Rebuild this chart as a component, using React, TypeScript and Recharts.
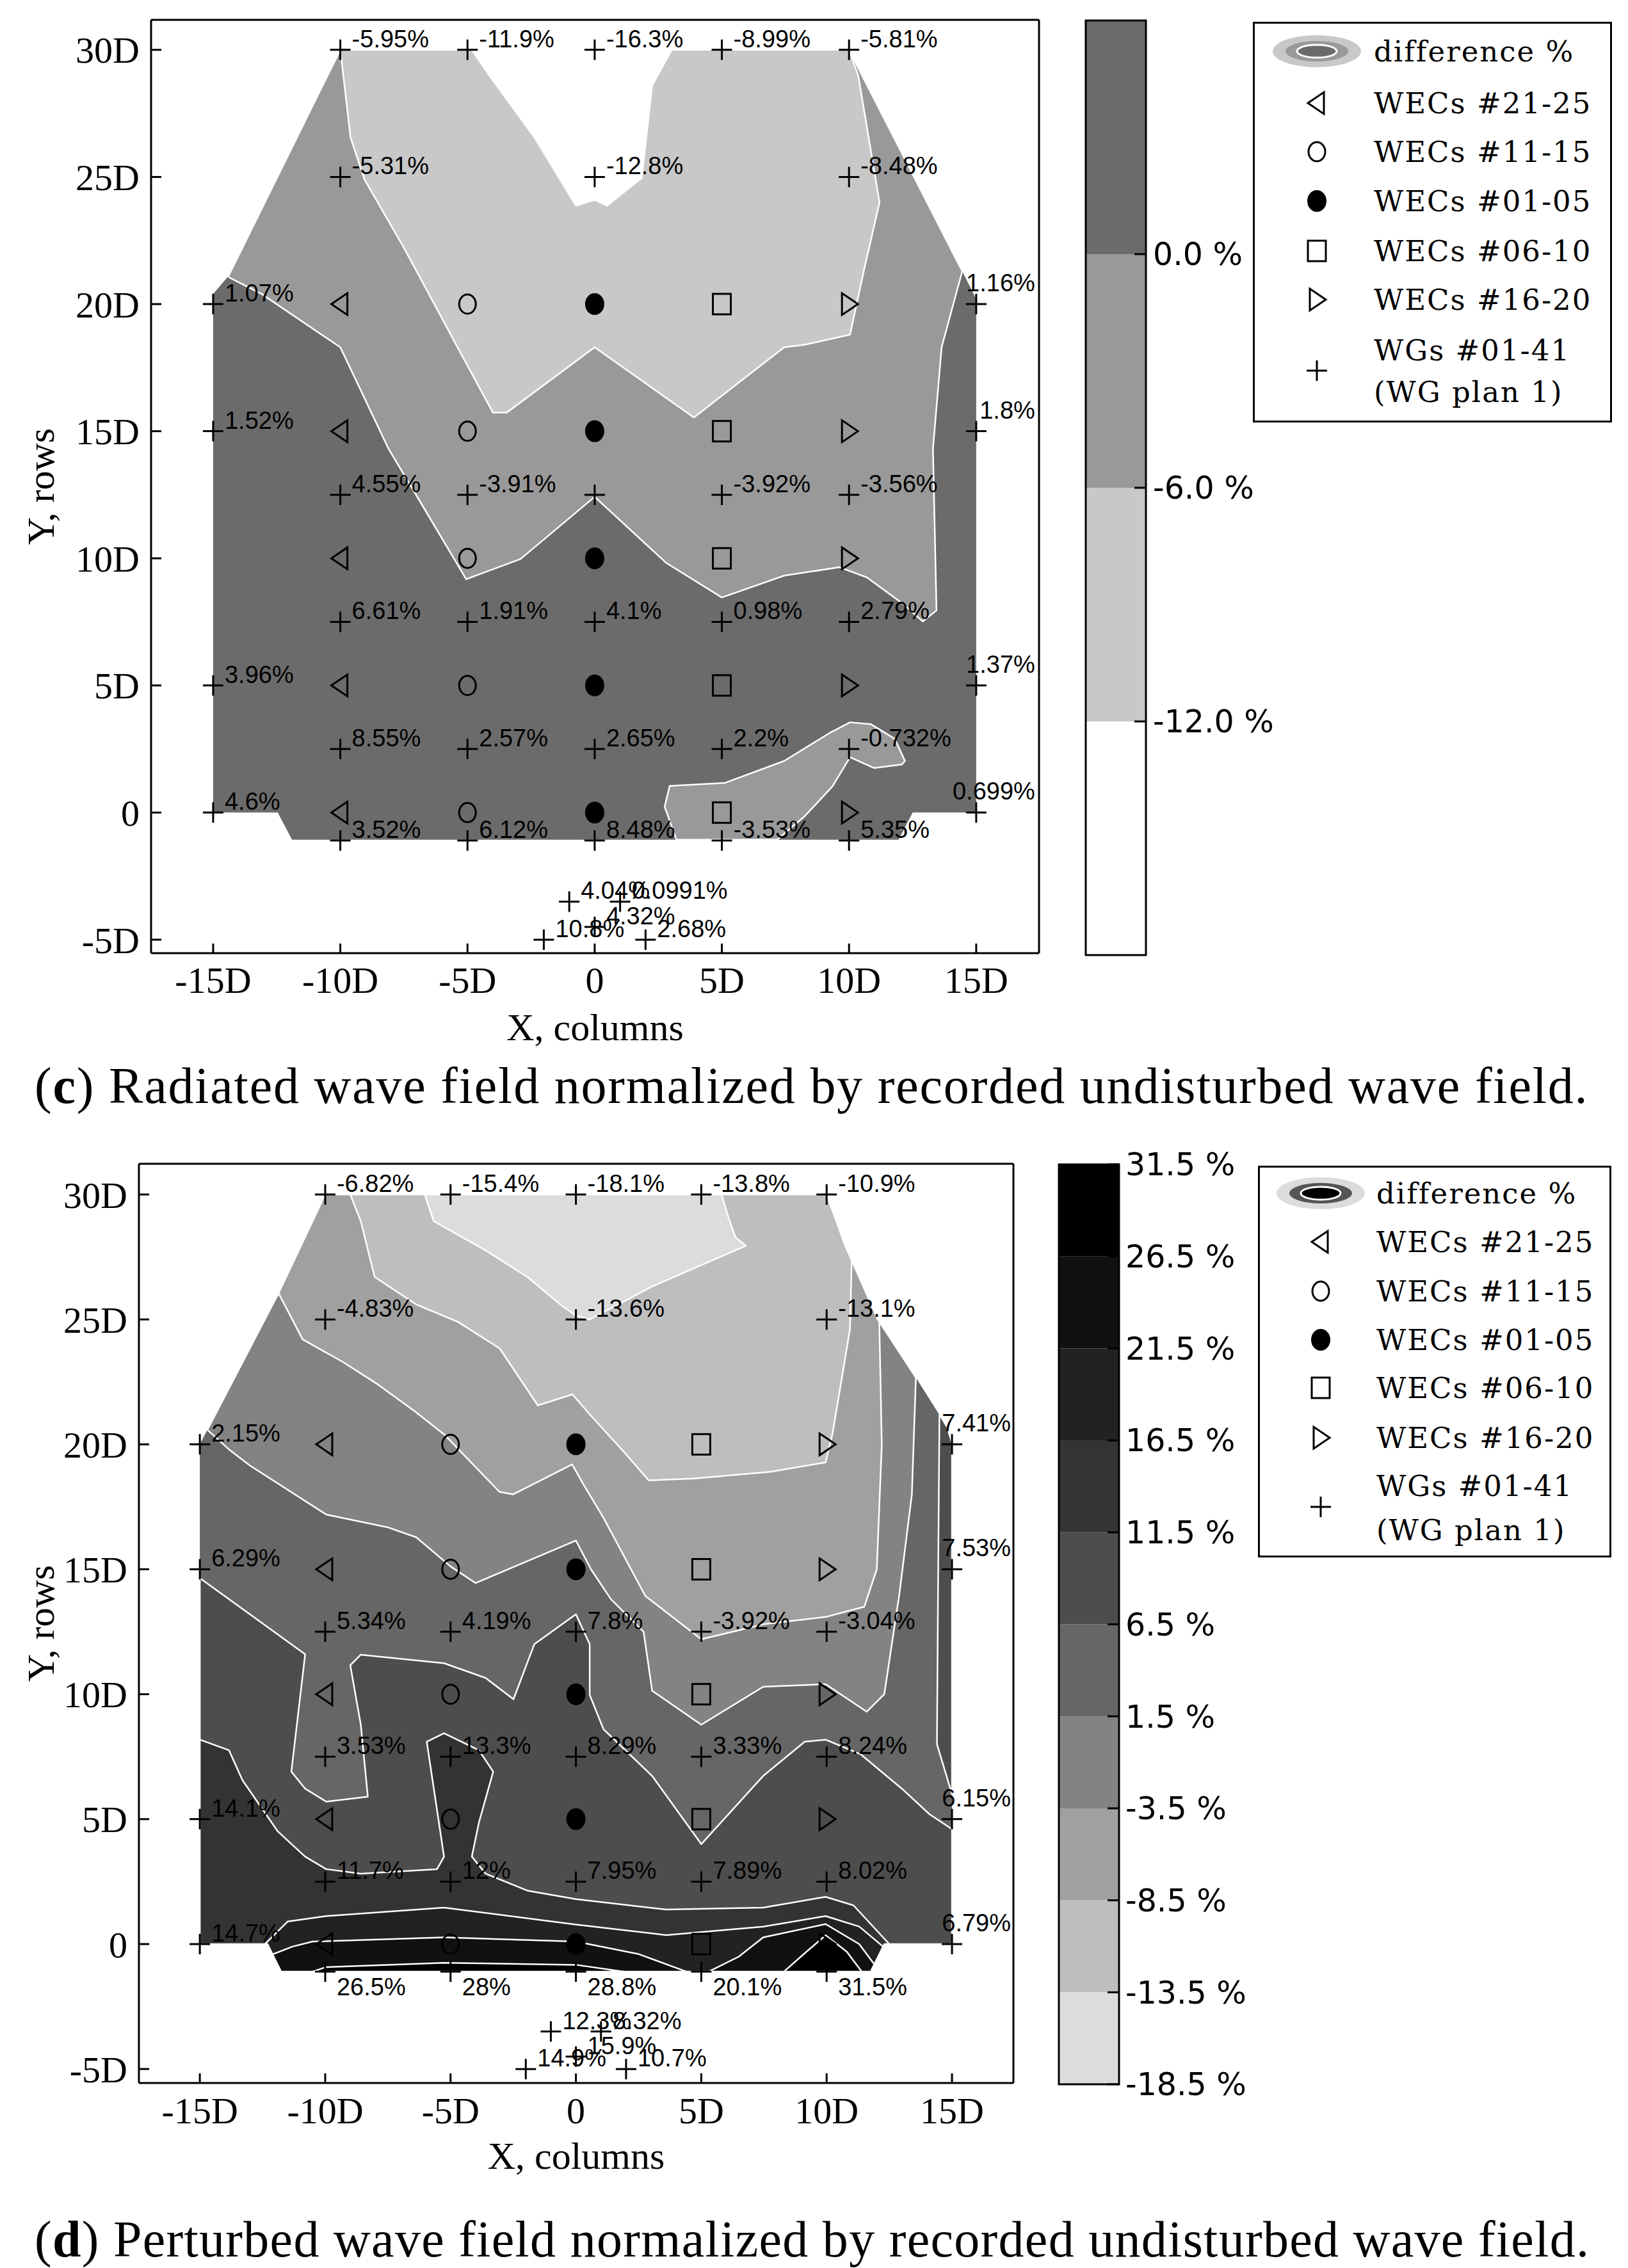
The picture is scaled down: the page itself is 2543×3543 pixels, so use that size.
import React from "react";
import { ComposedChart, Scatter, XAxis, YAxis, ReferenceArea } from "recharts";

type Pt = [number, number];

const X_TICKS = [-15, -10, -5, 0, 5, 10, 15];
const Y_TICKS = [-5, 0, 5, 10, 15, 20, 25, 30];
const WEC_ROWS = [0, 5, 10, 15, 20];

// wave gauge positions (x, y in D units), 41 gauges
const WG_POS: Pt[] = [
  [-10, 30], [-5, 30], [0, 30], [5, 30], [10, 30],
  [-10, 25], [0, 25], [10, 25],
  [-15, 20], [15, 20],
  [-15, 15], [15, 15],
  [-10, 12.5], [-5, 12.5], [0, 12.5], [5, 12.5], [10, 12.5],
  [-10, 7.5], [-5, 7.5], [0, 7.5], [5, 7.5], [10, 7.5],
  [-15, 5], [15, 5],
  [-10, 2.5], [-5, 2.5], [0, 2.5], [5, 2.5], [10, 2.5],
  [-15, 0], [15, 0],
  [-10, -1.1], [-5, -1.1], [0, -1.1], [5, -1.1], [10, -1.1],
  [-1, -3.5], [1, -3.5], [0, -4.5], [-2, -5], [2, -5],
];

const WG_LABELS_C = [
  "-5.95%", "-11.9%", "-16.3%", "-8.99%", "-5.81%",
  "-5.31%", "-12.8%", "-8.48%",
  "1.07%", "1.16%",
  "1.52%", "1.8%",
  "4.55%", "-3.91%", "", "-3.92%", "-3.56%",
  "6.61%", "1.91%", "4.1%", "0.98%", "2.79%",
  "3.96%", "1.37%",
  "8.55%", "2.57%", "2.65%", "2.2%", "-0.732%",
  "4.6%", "0.699%",
  "3.52%", "6.12%", "8.48%", "-3.53%", "5.35%",
  "4.04%", "0.0991%", "4.32%", "10.8%", "2.68%",
];

const WG_LABELS_D = [
  "-6.82%", "-15.4%", "-18.1%", "-13.8%", "-10.9%",
  "-4.83%", "-13.6%", "-13.1%",
  "2.15%", "7.41%",
  "6.29%", "7.53%",
  "5.34%", "4.19%", "7.8%", "-3.92%", "-3.04%",
  "3.53%", "13.3%", "8.29%", "3.33%", "8.24%",
  "14.1%", "6.15%",
  "11.7%", "12%", "7.95%", "7.89%", "8.02%",
  "14.7%", "6.79%",
  "26.5%", "28%", "28.8%", "20.1%", "31.5%",
  "12.3%", "8.32%", "15.9%", "14.9%", "10.7%",
];

// (c) contour regions
const C_HULL: Pt[] = [[-15, 0], [-12.46, 0], [-11.9, -1.07], [11.95, -1.07], [12.5, 0], [15, 0], [15, 20.2], [14.7, 20.8], [10, 30], [-10, 30], [-14.4, 21.1], [-15, 20.4], [-15, 0]];
const C_MID: Pt[] = [[-14.37, 21.05], [-13.1, 20.4], [-10, 18.3], [-8.1, 14.3], [-7, 12.46], [-5.05, 9.18], [-2.92, 9.97], [0, 12.42], [2.8, 9.83], [5, 8.46], [7.45, 9.32], [9.63, 9.65], [10.7, 9.25], [12.08, 8.24], [12.9, 7.52], [13.44, 7.95], [13.3, 14.3], [13.64, 18.3], [14.45, 21.29], [10, 30], [-10, 30], [-14.4, 21.1], [-14.37, 21.05]];
const C_LIGHT: Pt[] = [[-10, 30], [-9.6, 26.56], [-9.05, 24.9], [-7.55, 22.3], [-6.87, 21.05], [-5.5, 18.5], [-4, 15.73], [-3.46, 15.73], [0, 18.3], [3.9, 15.54], [7.45, 18.3], [8.26, 18.4], [10.04, 18.8], [10.58, 21.3], [11.2, 24], [10.36, 29], [10, 30], [-10, 30]];
const C_WHITE: Pt[] = [[-4.83, 30], [-4.15, 29], [-2.37, 26.56], [-0.74, 23.87], [0, 24.1], [0.49, 23.87], [1.85, 24.96], [2.26, 28.6], [3.03, 30], [-4.83, 30]];
const C_BLOB: Pt[] = [[3.22, -1.07], [2.75, 0.23], [2.95, 1.05], [5.13, 1.17], [7.45, 2.03], [9.22, 3.12], [10.04, 3.55], [10.85, 3.48], [11.8, 2.9], [12.2, 2.03], [12.08, 1.89], [10.99, 1.75], [10.04, 2.18], [9.35, 1.03], [8.26, -0.14], [7.17, -1.07], [3.22, -1.07]];

// (d) contour regions
const D_HULL: Pt[] = [[-15, 0], [-12.3, 0], [-11.76, -1.1], [11.76, -1.1], [12.3, 0], [15, 0], [15, 20.06], [14.8, 20.7], [13.56, 22.67], [12.04, 25], [10.74, 27.95], [10, 30], [-10, 30], [-11.86, 26.05], [-15, 20], [-15, 0]];
const D_LE_1_5: Pt[] = [[-14.7, 20.58], [-13.84, 19.8], [-13, 19.15], [-9.96, 17.19], [-7.47, 16.67], [-6.37, 16.28], [-4.98, 15.1], [-4, 14.45], [0, 16.15], [0.6, 15], [1.4, 13.8], [2.7, 12.5], [3.04, 10.14], [5, 8.78], [7.47, 10.3], [9.96, 10.4], [11.6, 9.3], [12.3, 10], [12.9, 14], [13.4, 18], [13.56, 22.67], [12.04, 25], [10.74, 27.95], [10, 30], [-10, 30], [-11.86, 26.05], [-14.7, 20.58]];
const D_LE_M3_5: Pt[] = [[-11.86, 26.05], [-10.9, 24.2], [-9.3, 23.3], [-7.9, 22.4], [-6.4, 21.3], [-5.26, 20.4], [-3.05, 18.1], [-2.5, 18], [-0.15, 19.2], [0.3, 18.4], [1.1, 17.06], [2.77, 13.93], [5, 12.2], [7.5, 12.8], [10, 13.1], [11.5, 13.5], [12, 15], [12.2, 20], [12.1, 24.91], [12.04, 25], [10.74, 27.95], [10, 30], [-10, 30], [-11.86, 26.05]];
const D_LE_M8_5: Pt[] = [[-9, 30], [-8.58, 28.93], [-8.03, 26.7], [-6.37, 25.6], [-4.7, 24.9], [-3.04, 23.84], [-1.52, 21.56], [-0.14, 22], [0.55, 21.2], [1.94, 19.67], [2.9, 18.56], [4.7, 18.63], [7.75, 18.9], [9.96, 19.28], [10.24, 20.45], [10.93, 24.6], [11, 27.36], [10.74, 27.95], [10, 30], [-9, 30]];
const D_LE_M13_5: Pt[] = [[-6.03, 30], [-5.67, 28.93], [-3.6, 27.76], [-1.94, 26.7], [-0.55, 25.54], [0, 25.15], [0.55, 25], [3.04, 26.32], [6.78, 27.95], [6.37, 28.28], [6.09, 29.06], [5.81, 30], [-6.03, 30]];
const D_GE_6_5: Pt[] = [[-15, 14.65], [-10.8, 11.6], [-11.35, 6.9], [-10.8, 6.22], [-9.96, 5.7], [-8.3, 5.9], [-8.58, 8.78], [-9, 11.16], [-8.58, 11.58], [-5.26, 11.24], [-3.6, 10.65], [-2.49, 9.8], [-1.66, 12], [0, 13.2], [0.55, 12], [0.55, 9.97], [1.1, 8.6], [3.04, 6.73], [5, 4], [7.47, 6.73], [9.13, 8.1], [9.96, 8.18], [11.35, 7.6], [13, 6.22], [14.1, 5.2], [15, 4.6], [15, 0], [12.3, 0], [11.76, -1.1], [-11.76, -1.1], [-12.3, 0], [-15, 0], [-15, 14.65]];
const D_GE_6_5_EDGE: Pt[] = [[14.5, 21.2], [14.45, 15], [14.4, 8], [15, 6], [15, 20.06], [14.8, 20.7], [14.5, 21.2]];
const D_GE_11_5: Pt[] = [[-15, 8.18], [-13.84, 7.76], [-13.3, 6.56], [-11.9, 4.52], [-10.8, 3.5], [-9.96, 3], [-8.58, 2.82], [-5.54, 3], [-5.26, 3.5], [-5.95, 8.1], [-5.26, 8.44], [-3.87, 7.76], [-3.3, 6.9], [-3.87, 4.86], [-4.15, 3.5], [-3.6, 2.82], [-1.94, 2.14], [0, 1.8], [3.6, 1.38], [7.47, 1.46], [9.96, 1.89], [11.07, 1.55], [12.5, 0], [12.3, 0], [11.76, -1.1], [-11.76, -1.1], [-12.3, 0], [-15, 0], [-15, 8.18]];
const D_GE_16_5: Pt[] = [[-12.4, 0], [-11.5, 0.9], [-9.96, 1.12], [-5.26, 1.46], [0, 0.78], [3.6, 0.36], [7.47, 0.7], [9.96, 1.12], [11.3, 0.7], [12.25, -0.1], [11.76, -1.1], [-11.76, -1.1], [-12.3, 0], [-12.4, 0]];
const D_GE_21_5_L: Pt[] = [[-12.1, -0.41], [-11.3, -0.1], [-10.5, 0.1], [-5.26, 0.27], [0, 0.1], [2.5, -0.4], [4.4, -1.1], [-11.76, -1.1], [-12.1, -0.41]];
const D_GE_21_5_R: Pt[] = [[5.3, -1.1], [6.5, -0.5], [7.47, 0.27], [9.96, 0.8], [11.3, 0], [11.9, -0.81], [11.76, -1.1], [5.3, -1.1]];
const D_GE_26_5_L: Pt[] = [[-10.5, -1.1], [-9.96, -0.92], [-5.26, -0.75], [0, -0.83], [1.9, -1.1], [-10.5, -1.1]];
const D_GE_26_5_R: Pt[] = [[8.3, -1.1], [9.2, -0.3], [9.96, 0.35], [10.8, -0.3], [11.4, -1.1], [8.3, -1.1]];

// colour bar levels
const C_LEVELS = [-18, -12, -6, 0, 6];
const C_COLORS = ["#ffffff", "#c8c8c8", "#999999", "#6b6b6b"];
const C_BAR_TICKS = [-12, -6, 0];
const D_LEVELS = [-18.5, -13.5, -8.5, -3.5, 1.5, 6.5, 11.5, 16.5, 21.5, 26.5, 31.5];
const D_COLORS = ["#dcdcdc", "#bebebe", "#a0a0a0", "#838383", "#666666", "#4d4d4d", "#333333", "#222222", "#111111", "#000000"];

const LEGEND_TEXT = ["difference %", "WECs #21-25", "WECs #11-15", "WECs #01-05", "WECs #06-10", "WECs #16-20"];

const POLYS_C = [
  { pts: C_HULL, fill: "#6b6b6b", stroke: "none" },
  { pts: C_MID, fill: "#999999", stroke: "#fff" },
  { pts: C_LIGHT, fill: "#c8c8c8", stroke: "#fff" },
  { pts: C_WHITE, fill: "#ffffff", stroke: "#fff" },
  { pts: C_BLOB, fill: "#999999", stroke: "#fff" },
];

const POLYS_D = [
  { pts: D_HULL, fill: D_COLORS[4], stroke: "none" },
  { pts: D_LE_1_5, fill: D_COLORS[3], stroke: "#fff" },
  { pts: D_LE_M3_5, fill: D_COLORS[2], stroke: "#fff" },
  { pts: D_LE_M8_5, fill: D_COLORS[1], stroke: "#fff" },
  { pts: D_LE_M13_5, fill: D_COLORS[0], stroke: "#fff" },
  { pts: D_GE_6_5, fill: D_COLORS[5], stroke: "#fff" },
  { pts: D_GE_6_5_EDGE, fill: D_COLORS[5], stroke: "#fff" },
  { pts: D_GE_11_5, fill: D_COLORS[6], stroke: "#fff" },
  { pts: D_GE_16_5, fill: D_COLORS[7], stroke: "#fff" },
  { pts: D_GE_21_5_L, fill: D_COLORS[8], stroke: "#fff" },
  { pts: D_GE_21_5_R, fill: D_COLORS[8], stroke: "#fff" },
  { pts: D_GE_26_5_L, fill: D_COLORS[9], stroke: "#fff" },
  { pts: D_GE_26_5_R, fill: D_COLORS[9], stroke: "#fff" },
];

const toXY = (pts: Pt[]) => pts.map(([x, y]) => ({ x, y }));
const NoShape = () => <g />;

function Marker({ kind, cx, cy }: { kind: string; cx: number; cy: number }) {
  const k = { fill: "none", stroke: "#000", strokeWidth: 3 };
  if (kind === "left") return <path d={`M${cx - 14},${cy}L${cx + 11},${cy - 17}L${cx + 11},${cy + 17}Z`} {...k} />;
  if (kind === "right") return <path d={`M${cx + 14},${cy}L${cx - 11},${cy - 17}L${cx - 11},${cy + 17}Z`} {...k} />;
  if (kind === "circle") return <ellipse cx={cx} cy={cy} rx={13} ry={15} {...k} />;
  if (kind === "dot") return <ellipse cx={cx} cy={cy} rx={15} ry={17} fill="#000" />;
  if (kind === "square") return <rect x={cx - 14} y={cy - 16} width={28} height={32} {...k} />;
  return <path d={`M${cx - 16},${cy}H${cx + 16}M${cx},${cy - 16}V${cy + 16}`} stroke="#000" strokeWidth={3} />;
}

const WEC_GROUPS = [
  { kind: "left", x: -10 },
  { kind: "circle", x: -5 },
  { kind: "dot", x: 0 },
  { kind: "square", x: 5 },
  { kind: "right", x: 10 },
];

const wgShape = (p: any) => {
  const { cx, cy, payload } = p;
  const atRight = payload.x >= 15;
  const below = payload.below;
  const tx = atRight ? cx + 92 : cx + 18;
  const ty = atRight ? cy - 33 : below ? cy + 24 : cy - 17;
  return (
    <g>
      <Marker kind="cross" cx={cx} cy={cy} />
      {payload.v ? (
        <text x={tx} y={ty} textAnchor={atRight ? "end" : "start"} dominantBaseline="central" fontFamily="Liberation Sans" fontSize={38} fill="#000">
          {payload.v}
        </text>
      ) : null}
    </g>
  );
};

const axisStroke = { stroke: "#000", strokeWidth: 3 };
const tickFont = { fontSize: 58, fontFamily: "Liberation Serif", fill: "#000" };
const fmtD = (v: number) => (v === 0 ? "0" : `${v}D`);

function Panel(props: {
  top: number; width: number; height: number;
  margin: { top: number; right: number; bottom: number; left: number };
  xDomain: number[]; yDomain: number[]; leftW: number; bottomH: number;
  tickMargin: number; xLabelOffset: number;
  polys: { pts: Pt[]; fill: string; stroke: string }[];
  labels: string[]; belowRow: number | null;
}) {
  const wg = WG_POS.map(([x, y], i) => ({ x, y, v: props.labels[i], below: props.belowRow !== null && y === props.belowRow }));
  return (
    <div style={{ position: "absolute", left: 0, top: props.top }}>
      <ComposedChart width={props.width} height={props.height} margin={props.margin}>
        <XAxis type="number" dataKey="x" domain={props.xDomain} ticks={X_TICKS} interval={0} allowDataOverflow
          tickFormatter={fmtD} tick={tickFont} tickSize={-15} tickMargin={props.tickMargin} height={props.bottomH}
          axisLine={axisStroke} tickLine={axisStroke}
          label={{ value: "X, columns", position: "insideBottom", offset: props.xLabelOffset, style: { fontSize: 60, fontFamily: "Liberation Serif", fill: "#000" } }} />
        <XAxis xAxisId="top" orientation="top" type="number" domain={props.xDomain} ticks={X_TICKS} interval={0} allowDataOverflow
          tick={false} tickSize={-15} height={1} axisLine={axisStroke} tickLine={axisStroke} />
        <YAxis type="number" dataKey="y" domain={props.yDomain} ticks={Y_TICKS} interval={0} allowDataOverflow
          tickFormatter={fmtD} tick={tickFont} tickSize={-16} tickMargin={34} width={props.leftW}
          axisLine={axisStroke} tickLine={axisStroke}
          label={{ value: "Y, rows", angle: -90, position: "insideLeft", offset: 63, style: { textAnchor: "middle", fontSize: 60, fontFamily: "Liberation Serif", fill: "#000" } }} />
        <YAxis yAxisId="r" orientation="right" type="number" domain={props.yDomain} ticks={Y_TICKS} interval={0} allowDataOverflow
          tick={false} tickSize={-16} width={1} axisLine={axisStroke} tickLine={axisStroke} />
        {props.polys.map((p, i) => (
          <Scatter key={`poly${i}`} data={toXY(p.pts)} shape={NoShape} isAnimationActive={false} legendType="none"
            line={{ fill: p.fill, stroke: p.stroke, strokeWidth: 2.5, strokeLinejoin: "round" }} />
        ))}
        {WEC_GROUPS.map((g) => (
          <Scatter key={g.kind} data={WEC_ROWS.map((y) => ({ x: g.x, y }))} isAnimationActive={false} legendType="none"
            shape={(s: any) => <Marker kind={g.kind} cx={s.cx} cy={s.cy} />} />
        ))}
        <Scatter data={wg} shape={wgShape} isAnimationActive={false} legendType="none" />
      </ComposedChart>
    </div>
  );
}

function ColorBar(props: {
  left: number; top: number; height: number;
  margin: { top: number; right: number; bottom: number; left: number };
  levels: number[]; colors: string[]; ticks: number[]; fmt: (v: number) => string; tickMargin: number;
}) {
  const { levels, colors } = props;
  const dom = [levels[0], levels[levels.length - 1]];
  const mids = colors.map((_, i) => ({ x: 0.5, y: (levels[i] + levels[i + 1]) / 2 }));
  const plotW = 94;
  const width = 420;
  return (
    <div style={{ position: "absolute", left: props.left, top: props.top }}>
      <ComposedChart width={width} height={props.height} margin={props.margin}>
        <XAxis type="number" dataKey="x" domain={[0, 1]} hide />
        <YAxis type="number" dataKey="y" orientation="right" domain={dom} ticks={props.ticks} interval={0} allowDataOverflow
          width={width - props.margin.left - 1 - plotW} tickFormatter={props.fmt}
          tick={{ fontSize: 49, fontFamily: "DejaVu Sans", fill: "#000" }} tickSize={-18} tickMargin={props.tickMargin}
          axisLine={false} tickLine={axisStroke} />
        <YAxis yAxisId="l" type="number" orientation="left" domain={dom} ticks={props.ticks} interval={0} allowDataOverflow
          width={1} tick={false} tickSize={-18} axisLine={false} tickLine={axisStroke} />
        {colors.map((c, i) => (
          <ReferenceArea key={c} y1={levels[i]} y2={levels[i + 1]} fill={c} fillOpacity={1} stroke="none" ifOverflow="visible" />
        ))}
        <ReferenceArea y1={dom[0]} y2={dom[1]} fill="none" stroke="#000" strokeWidth={3} ifOverflow="visible" />
        <Scatter data={mids} shape={NoShape} isAnimationActive={false} legendType="none" />
      </ComposedChart>
    </div>
  );
}

function LegendBox(props: {
  left: number; top: number; width: number; height: number; symX: number; textX: number;
  rows: number[]; wgY: number[]; crossY: number; icon: string[];
}) {
  const kinds = ["left", "circle", "dot", "square", "right"];
  const fs = 45;
  const txt = (s: string, cy: number, key: string) => (
    <div key={key} style={{ position: "absolute", left: props.textX, top: cy - 0.48 * fs, fontSize: fs, lineHeight: `${fs}px`, fontFamily: "DejaVu Serif", letterSpacing: 2, whiteSpace: "nowrap", color: "#000" }}>{s}</div>
  );
  const [c0, c1, c2] = props.icon;
  return (
    <div style={{ position: "absolute", left: props.left, top: props.top, width: props.width, height: props.height, border: "3px solid #000", boxSizing: "border-box", background: "#fff" }}>
      <svg width={props.width} height={props.height} style={{ position: "absolute", left: -3, top: -3 }}>
        <ellipse cx={props.symX} cy={props.rows[0]} rx={69} ry={25} fill={c0} />
        <ellipse cx={props.symX} cy={props.rows[0]} rx={49} ry={16} fill={c1} />
        <ellipse cx={props.symX} cy={props.rows[0]} rx={31} ry={10} fill={c2} stroke="#fff" strokeWidth={3} />
        {kinds.map((k, i) => <Marker key={k} kind={k} cx={props.symX} cy={props.rows[i + 1]} />)}
        <Marker kind="cross" cx={props.symX} cy={props.crossY} />
      </svg>
      {LEGEND_TEXT.map((s, i) => txt(s, props.rows[i] - 3, `t${i}`))}
      {txt("WGs #01-41", props.wgY[0] - 3, "wg1")}
      {txt("(WG plan 1)", props.wgY[1] - 3, "wg2")}
    </div>
  );
}

function Caption({ top, letter, text, spacing }: { top: number; letter: string; text: string; spacing: number }) {
  return (
    <div style={{ position: "absolute", left: 54, top: top - 40, fontSize: 80, lineHeight: "80px", letterSpacing: spacing, fontFamily: "Liberation Serif", whiteSpace: "nowrap", color: "#000" }}>
      (<b>{letter}</b>){text}
    </div>
  );
}

export default function App() {
  return (
    <div style={{ position: "absolute", left: 0, top: 0, width: 2543, height: 3543, background: "#fff", overflow: "hidden" }}>
      <Panel top={0} width={1700} height={1660} margin={{ top: 30, right: 76, bottom: 0, left: 0 }}
        xDomain={[-17.44, 17.47]} yDomain={[-5.53, 31.18]} leftW={236} bottomH={171} tickMargin={36} xLabelOffset={35}
        polys={POLYS_C} labels={WG_LABELS_C} belowRow={null} />
      <ColorBar left={1690} top={0} height={1530} margin={{ top: 32, right: 0, bottom: 38, left: 5 }}
        levels={C_LEVELS} colors={C_COLORS} ticks={C_BAR_TICKS} fmt={(v) => `${v.toFixed(1)} %`} tickMargin={29} />
      <LegendBox left={1957} top={34} width={561} height={626} symX={100} textX={186}
        rows={[46, 127, 203, 280, 358, 434]} wgY={[513, 578]} crossY={545} icon={["#c8c8c8", "#999999", "#6b6b6b"]} />
      <Caption top={1696} letter="c" spacing={1.8} text=" Radiated wave field normalized by recorded undisturbed wave field." />

      <Panel top={1780} width={1680} height={1660} margin={{ top: 37, right: 96, bottom: 0, left: 0 }}
        xDomain={[-17.43, 17.45]} yDomain={[-5.56, 31.23]} leftW={217} bottomH={186} tickMargin={37} xLabelOffset={52}
        polys={POLYS_D} labels={WG_LABELS_D} belowRow={-1.1} />
      <ColorBar left={1640} top={1780} height={1520} margin={{ top: 39, right: 0, bottom: 44, left: 13 }}
        levels={D_LEVELS} colors={D_COLORS} ticks={D_LEVELS} fmt={(v) => `${v} %`} tickMargin={28} />
      <LegendBox left={1965} top={1821} width={552} height={612} symX={98} textX={182}
        rows={[43, 119, 196, 272, 347, 425]} wgY={[500, 569]} crossY={533} icon={["#dcdcdc", "#555555", "#000000"]} />
      <Caption top={3498} letter="d" spacing={1.3} text=" Perturbed wave field normalized by recorded undisturbed wave field." />
    </div>
  );
}
